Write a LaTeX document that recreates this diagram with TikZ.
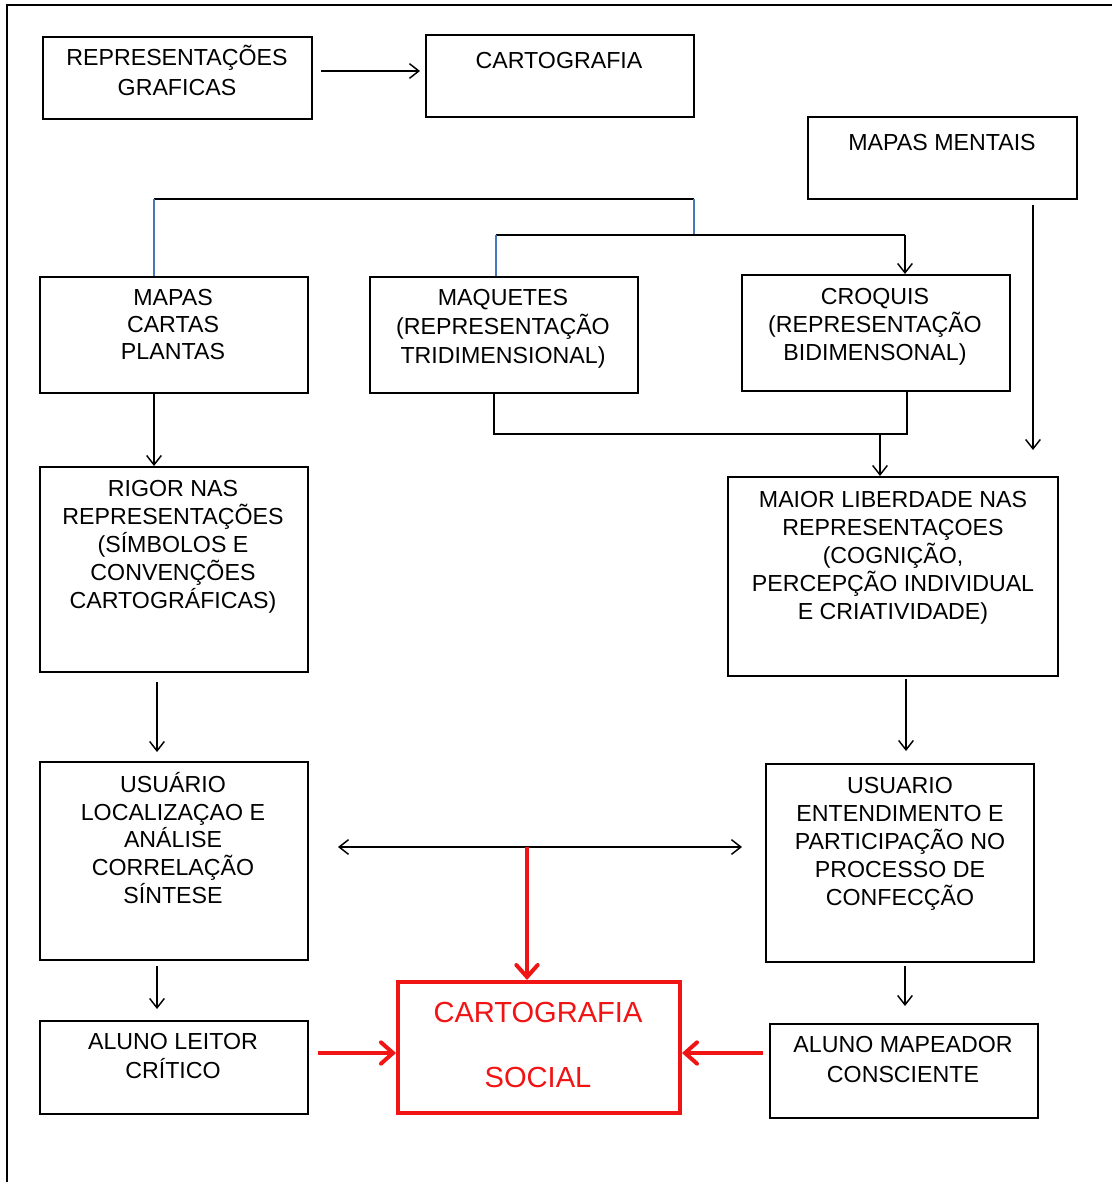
\documentclass[tikz,border=0pt]{standalone}
\usepackage{fontspec}
\setmainfont{Liberation Sans}
\usetikzlibrary{arrows.meta,fit,calc}
\definecolor{linkblue}{RGB}{70,120,190}
\definecolor{socialred}{RGB}{240,20,20}
\tikzset{
  box/.style={draw=black, line width=1.5pt, inner sep=0pt},
  redbox/.style={draw=socialred, line width=3pt, inner sep=0pt},
  txt/.style={align=center, inner sep=0pt, anchor=north,
    font=\fontsize{17.4}{21}\selectfont,
    execute at begin node={\rule{0pt}{16pt}}},
  redtxt/.style={anchor=base, inner sep=0pt, text=socialred,
    font=\fontsize{21.8}{26}\selectfont},
  conn/.style={draw=black, line width=1.1pt},
  bconn/.style={draw=linkblue, line width=0.9pt},
  arr/.style={conn, -{Straight Barb[length=7pt,width=11pt,line width=1.1pt]}},
  darr/.style={conn, {Straight Barb[length=7pt,width=11pt,line width=1.1pt]}-{Straight Barb[length=7pt,width=11pt,line width=1.1pt]}},
  redarr/.style={draw=socialred, line width=3pt,
    -{Straight Barb[length=9pt,width=16pt,line width=3pt,line cap=round]}},
}
\begin{document}
\begin{tikzpicture}[x=0.75pt, y=-0.75pt]
\useasboundingbox (0,0) rectangle (1111,1182);
% outer frame (top and left edges visible)
\draw[line width=1.8pt] (7,1190) -- (7,5) -- (1120,5);

% boxes
\node[box, fit={(43,37) (312,119)}] (rg) {};
\node[box, fit={(426,35) (694,117)}] (cart) {};
\node[box, fit={(808,117) (1077,199)}] (mm) {};
\node[box, fit={(40,277) (308,393)}] (mapas) {};
\node[box, fit={(370,277) (638,393)}] (maq) {};
\node[box, fit={(742,275) (1010,391)}] (croq) {};
\node[box, fit={(40,467) (308,672)}] (rigor) {};
\node[box, fit={(728,477) (1058,676)}] (maior) {};
\node[box, fit={(40,762) (308,960)}] (usu1) {};
\node[box, fit={(766,764) (1034,962)}] (usu2) {};
\node[box, fit={(40,1021) (308,1114)}] (al1) {};
\node[box, fit={(770,1024) (1038,1118)}] (al2) {};
\node[redbox, fit={(398,982) (680,1113)}] (cs) {};

% texts
\node[txt, font=\fontsize{17.4}{22.5}\selectfont] (rg-t) at (177,45) {REPRESENTAÇÕES\\GRAFICAS};
\node[txt] (cart-t) at (559,47) {CARTOGRAFIA};
\node[txt] (mm-t) at (942,129) {MAPAS MENTAIS};
\node[txt, font=\fontsize{17.4}{20.3}\selectfont] (mapas-t) at (173,289) {MAPAS\\CARTAS\\PLANTAS};
\node[txt, font=\fontsize{17.4}{21.7}\selectfont] (maq-t) at (503,289) {MAQUETES\\(REPRESENTAÇÃO\\TRIDIMENSIONAL)};
\node[txt] (croq-t) at (875,288) {CROQUIS\\(REPRESENTAÇÃO\\BIDIMENSONAL)};
\node[txt] (rigor-t) at (173,480) {RIGOR NAS\\REPRESENTAÇÕES\\(SÍMBOLOS E\\CONVENÇÕES\\CARTOGRÁFICAS)};
\node[txt] (maior-t) at (893,491) {MAIOR LIBERDADE NAS\\REPRESENTAÇOES\\(COGNIÇÃO,\\PERCEPÇÃO INDIVIDUAL\\E CRIATIVIDADE)};
\node[txt, font=\fontsize{17.4}{20.8}\selectfont] (usu1-t) at (173,772) {USUÁRIO\\LOCALIZAÇAO E\\ANÁLISE\\CORRELAÇÃO\\SÍNTESE};
\node[txt] (usu2-t) at (900,777) {USUARIO\\ENTENDIMENTO E\\PARTICIPAÇÃO NO\\PROCESSO DE\\CONFECÇÃO};
\node[txt, font=\fontsize{17.4}{21.8}\selectfont] (al1-t) at (173,1033) {ALUNO LEITOR\\CRÍTICO};
\node[txt, font=\fontsize{17.4}{22.5}\selectfont] (al2-t) at (903,1036) {ALUNO MAPEADOR\\CONSCIENTE};
\node[redtxt] (cs-t1) at (538,1022) {CARTOGRAFIA};
\node[redtxt] (cs-t2) at (538,1087) {SOCIAL};

% junction points and free ends
\coordinate (rowa) at (0,71);
\coordinate (j1l) at (154,199);
\coordinate (j1r) at (694,199);
\coordinate (j2m) at (694,235);
\coordinate (j2l) at (496,235);
\coordinate (j2r) at (905,235);
\coordinate (j3l) at (494,434);
\coordinate (j3r) at (907,434);
\coordinate (j3a) at (880,434);
\coordinate (mmstart) at (1033,205);
\coordinate (mmend) at (1033,450);
\coordinate (c1a) at (157,682);
\coordinate (c1b) at (157,752);
\coordinate (c2a) at (906,679);
\coordinate (c2b) at (906,751);
\coordinate (c3a) at (157,966);
\coordinate (c3b) at (157,1009);
\coordinate (c4a) at (905,966);
\coordinate (c4b) at (905,1006);
\coordinate (hl) at (338,847);
\coordinate (hr) at (742,847);
\coordinate (hm) at (527,847);
\coordinate (rl) at (318,1053);
\coordinate (rr) at (763,1053);

% connectors
\draw[arr] ($(rg.east |- rowa)+(8,0)$) -- ($(cart.west |- rowa)+(-5,0)$);
\draw[conn] (j1l) -- (j1r);
\draw[bconn] (j1l) -- (mapas.north -| j1l);
\draw[bconn] (j1r) -- (j2m);
\draw[conn] (j2l) -- (j2r);
\draw[bconn] (j2l) -- (maq.north -| j2l);
\draw[arr] (j2r) -- (croq.north -| j2r);
\draw[arr] (mmstart) -- (mmend);
\draw[arr] (mapas.south -| j1l) -- (rigor.north -| j1l);
\draw[conn] (maq.south -| j3l) -- (j3l) -- (j3r) -- (croq.south -| j3r);
\draw[arr] (j3a) -- (maior.north -| j3a);
\draw[arr] (c1a) -- (c1b);
\draw[arr] (c2a) -- (c2b);
\draw[darr] (hl) -- (hr);
\draw[redarr] (hm) -- (cs.north -| hm);
\draw[arr] (c3a) -- (c3b);
\draw[arr] (c4a) -- (c4b);
\draw[redarr] (rl) -- (cs.west |- rl);
\draw[redarr] (rr) -- (cs.east |- rr);
\end{tikzpicture}
\end{document}
